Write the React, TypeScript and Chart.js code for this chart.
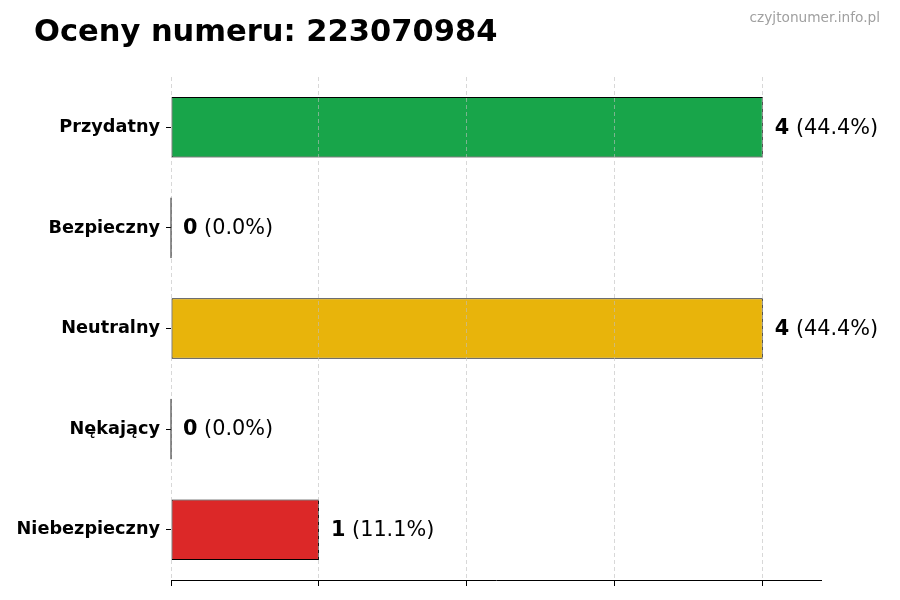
import { useEffect, useRef } from 'react'
import Chart from 'chart.js/auto'

const categories = ['Przydatny', 'Bezpieczny', 'Neutralny', 'Nękający', 'Niebezpieczny']
const counts = [4, 0, 4, 0, 1]
const percents = ['44.4%', '0.0%', '44.4%', '0.0%', '11.1%']
const barColors = ['#18a54a', '#1f77b4', '#e8b40b', '#ff7f0e', '#dc2828']
const xTicks = [0, 1, 2, 3, 4]

const FONT = "'DejaVu Sans', sans-serif"

// title, watermark, bottom spine, value labels and the zero-width bar edges
const overlay = {
  id: 'overlay',
  afterDraw(chart: any) {
    const { ctx, chartArea } = chart
    ctx.save()
    ctx.textBaseline = 'alphabetic'
    ctx.textAlign = 'left'
    ctx.fillStyle = '#000'
    ctx.font = `bold 30.5px ${FONT}`
    ctx.fillText('Oceny numeru: 223070984', 34, 41)

    ctx.textAlign = 'right'
    ctx.fillStyle = '#a0a0a0'
    ctx.font = `13.7px ${FONT}`
    ctx.fillText('czyjtonumer.info.pl', 880, 22)

    ctx.strokeStyle = '#000'
    ctx.lineWidth = 1
    ctx.beginPath()
    ctx.moveTo(chartArea.left, Math.round(chartArea.bottom) + 0.5)
    ctx.lineTo(chartArea.right, Math.round(chartArea.bottom) + 0.5)
    ctx.stroke()

    const meta = chart.getDatasetMeta(0)
    meta.data.forEach((bar: any, i: number) => {
      if (counts[i] === 0) {
        ctx.strokeStyle = '#222'
        ctx.lineWidth = 1
        ctx.beginPath()
        ctx.moveTo(bar.x, bar.y - bar.height / 2)
        ctx.lineTo(bar.x, bar.y + bar.height / 2)
        ctx.stroke()
      }
      const x = bar.x + 12
      ctx.textAlign = 'left'
      ctx.textBaseline = 'middle'
      ctx.fillStyle = '#000'
      ctx.font = `bold 20.8px ${FONT}`
      const bold = String(counts[i])
      ctx.fillText(bold, x, bar.y + 1)
      const w = ctx.measureText(bold).width
      ctx.font = `20.8px ${FONT}`
      ctx.fillText(` (${percents[i]})`, x + w, bar.y + 1)
    })
    ctx.restore()
  },
}

export default function App() {
  const canvasRef = useRef<HTMLCanvasElement>(null)

  useEffect(() => {
    if (!canvasRef.current) return
    const chart = new Chart(canvasRef.current, {
      type: 'bar',
      data: {
        labels: categories,
        datasets: [
          {
            data: counts,
            backgroundColor: barColors,
            borderColor: '#000',
            borderWidth: 1,
            borderSkipped: false,
            barPercentage: 0.6,
            categoryPercentage: 1,
          },
        ],
      },
      options: {
        indexAxis: 'y',
        responsive: false,
        animation: false,
        events: [],
        layout: { padding: { left: 0, right: 78, top: 77, bottom: 0 } },
        plugins: { legend: { display: false }, tooltip: { enabled: false }, title: { display: false } },
        scales: {
          x: {
            type: 'linear',
            position: 'bottom',
            min: 0,
            max: 4.4,
            afterBuildTicks: (s: any) => {
              s.ticks = xTicks.map((v) => ({ value: v }))
            },
            afterFit: (s: any) => {
              s.height = 20
            },
            ticks: { display: false },
            grid: {
              display: true,
              color: 'rgba(190,190,190,0.6)',
              lineWidth: 1,
              drawTicks: true,
              tickLength: 6,
              tickColor: '#000',
              tickWidth: 1,
              tickBorderDash: [],
              z: 1,
            },
            border: { display: false, dash: [4, 3] },
          },
          y: {
            afterFit: (s: any) => {
              s.width = 171
            },
            ticks: {
              color: '#000',
              padding: 6,
              font: { family: FONT, size: 17.7, weight: 'bold' },
            },
            grid: {
              display: true,
              offset: false,
              drawOnChartArea: false,
              drawTicks: true,
              tickLength: 5,
              tickColor: '#000',
            },
            border: { display: false },
          },
        },
      },
      plugins: [overlay],
    } as any)
    return () => chart.destroy()
  }, [])

  return (
    <div style={{ position: 'fixed', left: 0, top: 0, width: 900, height: 600, background: '#fff' }}>
      <canvas ref={canvasRef} width={900} height={600} style={{ width: 900, height: 600 }} />
    </div>
  )
}
